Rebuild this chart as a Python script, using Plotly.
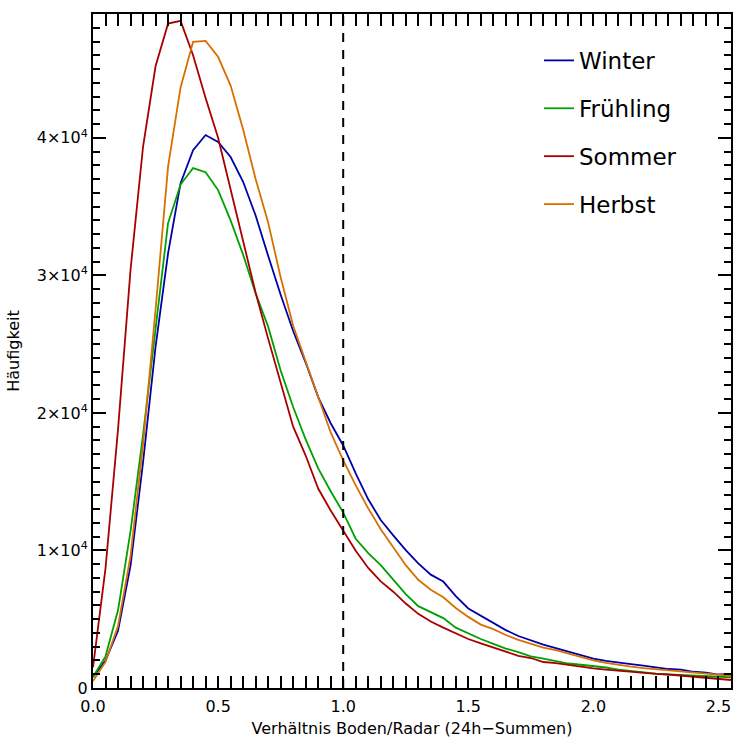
import numpy as np
import plotly.graph_objects as go

# Ratio bins (gauge / radar, 24h sums)
ratio = np.round(np.arange(0.0, 2.5501, 0.05), 2)

winter = [800, 2000, 4160, 8900, 16400, 24800, 31600, 36700, 39100, 40200,
          39700, 38600, 36800, 34350, 31420, 28590, 25950, 23660, 21150, 19250,
          17630, 15600, 13720, 12210, 11100, 10030, 9060, 8240, 7740, 6680,
          5780, 5250, 4720, 4210, 3780, 3450, 3160, 2900, 2650, 2400,
          2140, 1970, 1830, 1740, 1630, 1500, 1380, 1330, 1180, 1110,
          980, 1000]
fruehling = [800, 2300, 5650, 11400, 18400, 26000, 33800, 36600, 37800, 37500,
             36200, 34000, 31500, 28690, 26270, 23080, 20430, 18070, 15970, 14300,
             12750, 10850, 9800, 8930, 7840, 6820, 5950, 5520, 5080, 4390,
             3950, 3560, 3210, 2870, 2610, 2300, 2130, 1960, 1780, 1690,
             1600, 1490, 1340, 1230, 1110, 1050, 980, 940, 910, 870,
             820, 780]
sommer = [1500, 8700, 18800, 30400, 39350, 45200, 48300, 48500, 46000, 42900,
          40000, 36300, 32600, 28740, 25400, 22200, 19000, 16900, 14500, 12900,
          11400, 9980, 8730, 7750, 7000, 6140, 5390, 4830, 4390, 3980,
          3560, 3240, 2950, 2610, 2340, 2180, 1890, 1810, 1670, 1520,
          1420, 1340, 1260, 1160, 1090, 1020, 980, 890, 830, 760,
          650, 580]
herbst = [500, 1900, 4500, 9600, 17700, 27500, 37900, 43660, 46980, 47050,
          45890, 43800, 40600, 37000, 33850, 29860, 26340, 23730, 21080, 18580,
          16550, 14730, 13060, 11540, 10230, 8930, 7870, 7150, 6600, 5820,
          5170, 4610, 4280, 3850, 3500, 3220, 2930, 2760, 2500, 2250,
          2000, 1830, 1680, 1560, 1450, 1360, 1270, 1200, 1120, 1050,
          970, 870]

series_names = ["Winter", "Frühling", "Sommer", "Herbst"]
series_values = [winter, fruehling, sommer, herbst]
series_colors = ["#0000a8", "#00a000", "#a80000", "#d87000"]

y_tickvals = [0, 10000, 20000, 30000, 40000]
y_ticktext = ["0", "1×10<sup>4</sup>", "2×10<sup>4</sup>",
              "3×10<sup>4</sup>", "4×10<sup>4</sup>"]
x_tickvals = [0.0, 0.5, 1.0, 1.5, 2.0, 2.5]
x_ticktext = ["0.0", "0.5", "1.0", "1.5", "2.0", "2.5"]
ratio_marker = 1.0

FONT = "DejaVu Sans"

fig = go.Figure()
for name, vals, col in zip(series_names, series_values, series_colors):
    fig.add_trace(go.Scatter(
        x=ratio, y=vals, mode="lines", name=name, legendgroup=name,
        line=dict(color=col, width=1.8),
    ))

# dashed reference line at ratio 1
fig.add_shape(type="line", xref="x", yref="paper",
              x0=ratio_marker, x1=ratio_marker, y0=0, y1=1,
              line=dict(color="black", width=2, dash="9px,8px"))

fig.update_layout(
    width=734, height=738,
    margin=dict(l=93, r=1, t=14, b=49),
    paper_bgcolor="white", plot_bgcolor="white",
    font=dict(family=FONT, size=16, color="black"),
    showlegend=True,
    legend=dict(x=0.699, y=0.963, xanchor="left", yanchor="top",
                bgcolor="rgba(0,0,0,0)", borderwidth=0,
                font=dict(family=FONT, size=23, color="black"),
                tracegroupgap=15, itemwidth=30),
)

fig.update_xaxes(
    range=[0, 2.55], showgrid=False, zeroline=False,
    showline=True, linecolor="black", linewidth=2, mirror="ticks",
    ticks="inside", ticklen=12, tickwidth=2, tickcolor="black",
    tickvals=x_tickvals, ticktext=x_ticktext,
    tickfont=dict(family=FONT, size=16),
    ticklabelstandoff=3,
    minor=dict(dtick=0.05, ticks="inside", ticklen=12, tickwidth=2,
               tickcolor="black", showgrid=False),
    title=dict(text="Verhältnis Boden/Radar (24h−Summen)",
               font=dict(family=FONT, size=16), standoff=10),
)
fig.update_yaxes(
    range=[0, 49000], showgrid=False, zeroline=False,
    showline=True, linecolor="black", linewidth=2, mirror="ticks",
    ticks="inside", ticklen=13, tickwidth=2, tickcolor="black",
    tickvals=y_tickvals, ticktext=y_ticktext,
    tickfont=dict(family=FONT, size=16),
    minor=dict(dtick=1000, ticks="inside", ticklen=7, tickwidth=2,
               tickcolor="black", showgrid=False),
    title=dict(text="Häufigkeit", font=dict(family=FONT, size=16), standoff=13),
)

fig.write_html("out.html")
